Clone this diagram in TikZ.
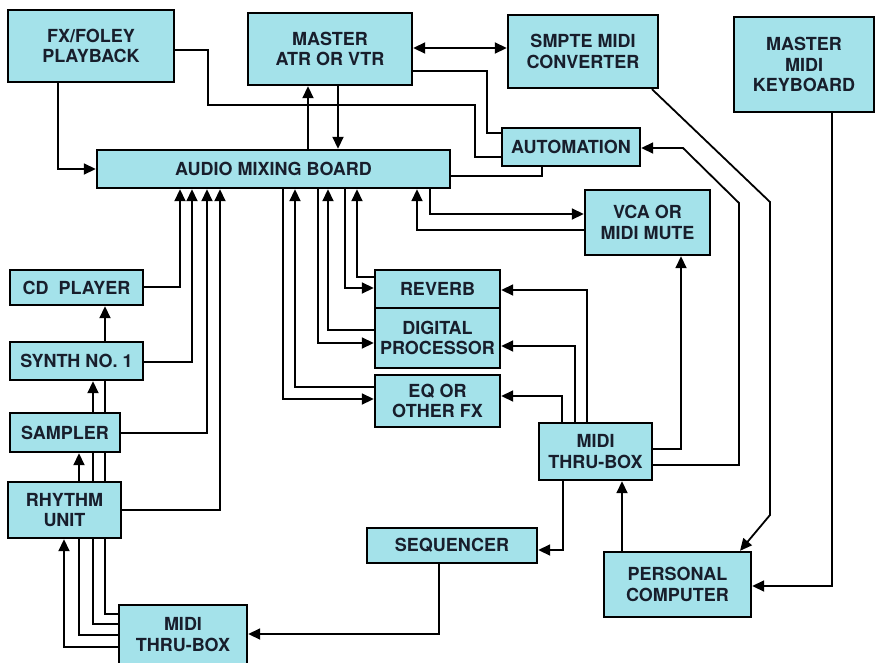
\documentclass[tikz,border=0pt]{standalone}
\usepackage{fontspec}
\setmainfont{TeX Gyre Heros}
\usetikzlibrary{arrows.meta,backgrounds}
\definecolor{boxfill}{RGB}{164,226,234}
\definecolor{boxtext}{RGB}{24,30,44}
\begin{document}
\begin{tikzpicture}[x=1pt,y=-1pt,
  box/.style={draw=black,line width=2.4pt,fill=boxfill,text=boxtext,align=center,inner sep=0pt,
    font=\fontsize{18}{20.5}\selectfont\bfseries},
  link/.style={line width=1.8pt},
  arr/.style={link,-{Triangle[length=12pt,width=11pt]}},
  dbl/.style={link,{Triangle[length=12pt,width=11pt]}-{Triangle[length=12pt,width=11pt]}}]
\useasboundingbox (0,0) rectangle (876,662);
% boxes
\node[box,minimum width=166pt,minimum height=72pt] (fx) at (91,46) {FX/FOLEY\\PLAYBACK};
\node[box,minimum width=164pt,minimum height=72pt] (atr) at (330,49) {MASTER\\ATR OR VTR};
\node[box,minimum width=150pt,minimum height=73pt] (smpte) at (583,51.5) {SMPTE MIDI\\CONVERTER};
\node[box,minimum width=140pt,minimum height=95pt] (kbd) at (804,64.5) {MASTER\\MIDI\\KEYBOARD};
\node[box,minimum width=138pt,minimum height=38pt] (auto) at (571,147) {AUTOMATION};
\node[box,minimum width=125pt,minimum height=65pt] (vca) at (647.5,222.5) {VCA OR\\MIDI MUTE};
\node[box,minimum width=353pt,minimum height=38pt] (mixer) at (273.5,169) {AUDIO MIXING BOARD};
\node[box,minimum width=133pt,minimum height=35pt] (cd) at (76.5,287.5) {CD\ \ PLAYER};
\node[box,minimum width=133pt,minimum height=38pt] (synth) at (76.5,361) {SYNTH NO. 1};
\node[box,minimum width=110pt,minimum height=39pt] (sampler) at (65,432.5) {SAMPLER};
\node[box,minimum width=113pt,minimum height=56pt] (rhythm) at (64.5,510) {RHYTHM\\UNIT};
\node[box,minimum width=128pt,minimum height=59pt] (thruL) at (183,634.5) {MIDI\\THRU-BOX};
\node[box,minimum width=170pt,minimum height=35pt] (seq) at (452,545.5) {SEQUENCER};
\node[box,minimum width=125pt,minimum height=38pt] (reverb) at (437.5,289) {REVERB};
\node[box,minimum width=125pt,minimum height=60pt] (dp) at (437.5,338) {DIGITAL\\PROCESSOR};
\node[box,minimum width=125pt,minimum height=52pt] (eq) at (437.5,401) {EQ OR\\OTHER FX};
\node[box,minimum width=113pt,minimum height=57pt] (thruR) at (595.5,451.5) {MIDI\\THRU-BOX};
\node[box,minimum width=147pt,minimum height=65pt] (pc) at (677.5,584.5) {PERSONAL\\COMPUTER};
\begin{scope}[on background layer]
% top row
\draw[arr] (fx.south -| 58,0) |- (mixer.west);
\draw[link] (fx.east |- 0,50) -| (208,105) -| (475,157) -- (auto.west |- 0,157);
\draw[dbl] (atr.east |- 0,48) -- (smpte.west |- 0,48);
\draw[link] (atr.east |- 0,71) -| (487,133) -- (auto.west |- 0,133);
\draw[arr] (atr.south -| 338,0) -- (mixer.north -| 338,0);
\draw[arr] (mixer.north -| 308,0) -- (atr.south -| 308,0);
\draw[link] (mixer.east |- 0,176) -| (auto.south -| 542,0);
\draw[arr] (mixer.south -| 430,0) |- (vca.west |- 0,214);
\draw[arr] (vca.west |- 0,230) -| (mixer.south -| 417,0);
% right side
\draw[arr] (thruR.east |- 0,449) -| (vca.south -| 681,0);
\draw[arr] (thruR.east |- 0,465) -| (739,203) -- (683,148) -- (auto.east |- 0,148);
\draw[arr] (smpte.south -| 652,0) -- (770,202) -- (770,515) -- (pc.north -| 740,0);
\draw[arr] (kbd.south -| 832,0) |- (pc.east |- 0,586);
\draw[arr] (pc.north -| 622,0) -- (thruR.south -| 622,0);
\draw[arr] (thruR.south -| 563,0) |- (seq.east |- 0,550);
\draw[arr] (seq.south -| 439,0) |- (thruL.east |- 0,634);
% left thru-box to sound sources
\draw[arr] (thruL.west |- 0,647) -| (rhythm.south -| 64,0);
\draw[arr] (thruL.west |- 0,635) -| (sampler.south -| 79,0);
\draw[arr] (thruL.west |- 0,624) -| (synth.south -| 93,0);
\draw[arr] (thruL.west |- 0,614) -| (cd.south -| 105,0);
% sources into mixer
\draw[arr] (cd.east |- 0,287) -| (mixer.south -| 180,0);
\draw[arr] (synth.east |- 0,362) -| (mixer.south -| 192,0);
\draw[arr] (sampler.east |- 0,433) -| (mixer.south -| 207,0);
\draw[arr] (rhythm.east |- 0,510) -| (mixer.south -| 220,0);
% effects loops
\draw[arr] (mixer.south -| 345,0) |- (reverb.west |- 0,288);
\draw[arr] (reverb.west |- 0,277) -| (mixer.south -| 357,0);
\draw[arr] (mixer.south -| 318,0) |- (dp.west |- 0,343);
\draw[arr] (dp.west |- 0,330) -| (mixer.south -| 328,0);
\draw[arr] (mixer.south -| 283,0) |- (eq.west |- 0,399);
\draw[arr] (eq.west |- 0,387) -| (mixer.south -| 295,0);
\draw[arr] (thruR.north -| 587,0) |- (reverb.east |- 0,290);
\draw[arr] (thruR.north -| 575,0) |- (dp.east |- 0,346);
\draw[arr] (thruR.north -| 562,0) |- (eq.east |- 0,396);
\end{scope}
\end{tikzpicture}
\end{document}
